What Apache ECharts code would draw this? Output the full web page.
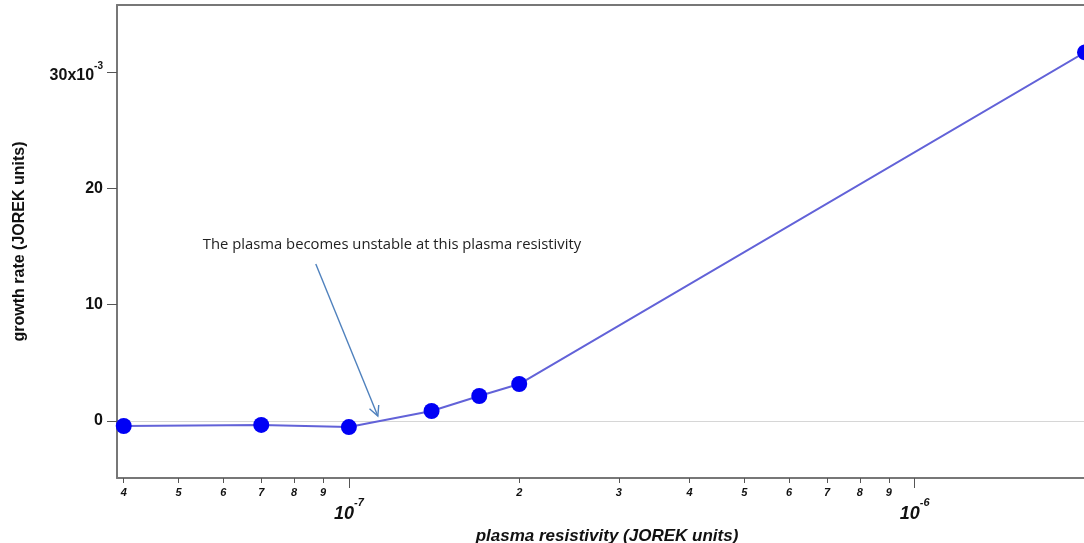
<!DOCTYPE html>
<html><head><meta charset="utf-8">
<script src="https://cdn.jsdelivr.net/npm/echarts@6/dist/echarts.min.js"></script>
<style>html,body{margin:0;padding:0;background:#fff}#c{width:1084px;height:543px}</style>
</head><body><div id="c"></div>
<script>
// ---- data ----
const resistivity = [4e-8, 7e-8, 1e-7, 1.4e-7, 1.7e-7, 2e-7, 2e-6];
const growthRate = [-0.00043, -0.00034, -0.00052, 0.00086, 0.00215, 0.00318, 0.0317];
const minorTicks = [4e-8, 5e-8, 6e-8, 7e-8, 8e-8, 9e-8, 2e-7, 3e-7, 4e-7, 5e-7, 6e-7, 7e-7, 8e-7, 9e-7];
const decadeTicks = [1e-7, 1e-6];
const yTicks = [0, 0.01, 0.02, 0.03];
const annotationText = 'The plasma becomes unstable at this plasma resistivity';
const arrowFrom = [8.74e-8, 0.0135];
const arrowTo = [1.125e-7, 0.00043];
const textAnchor = [5.52e-8, 0.01513];

const FONT = 'Liberation Sans';
const chart = echarts.init(document.getElementById('c'), null, {renderer: 'canvas'});

function mantissa(v) {
  const e = Math.floor(Math.log10(v) + 1e-9);
  return String(Math.round(v / Math.pow(10, e)));
}
const xBase = {
  type: 'log', min: 3.892e-8, max: 2.1e-6, gridIndex: 0,
  splitLine: {show: false}, minorTick: {show: false}, minorSplitLine: {show: false}
};

const option = {
  animation: false,
  backgroundColor: '#fff',
  grid: {left: 117, right: -13, top: 5, bottom: 65, containLabel: false, outerBoundsMode: 'none'},
  xAxis: [
    Object.assign({}, xBase, {
      position: 'bottom',
      axisLine: {show: true, onZero: false, lineStyle: {color: '#777', width: 2}},
      axisTick: {show: true, length: 5, customValues: minorTicks, lineStyle: {color: '#555', width: 1}},
      axisLabel: {customValues: minorTicks, formatter: mantissa, fontSize: 11, fontStyle: 'italic',
        fontWeight: 'bold', color: '#111', margin: 9, fontFamily: FONT}
    }),
    Object.assign({}, xBase, {
      position: 'bottom',
      axisLine: {show: false, onZero: false},
      axisTick: {show: true, length: 10, customValues: decadeTicks, lineStyle: {color: '#555', width: 1}},
      axisLabel: {
        customValues: decadeTicks,
        formatter: v => '{b|10}{s|' + Math.round(Math.log10(v)) + '}',
        margin: 19,
        rich: {
          b: {fontSize: 18, fontStyle: 'italic', fontWeight: 'bold', color: '#111', fontFamily: FONT,
              lineHeight: 26, verticalAlign: 'bottom'},
          s: {fontSize: 11, fontStyle: 'italic', fontWeight: 'bold', color: '#111', fontFamily: FONT, verticalAlign: 'top'}
        }
      },
      name: 'plasma resistivity (JOREK units)', nameLocation: 'middle', nameGap: 46,
      nameTextStyle: {fontSize: 17, fontStyle: 'italic', fontWeight: 'bold', color: '#111', fontFamily: FONT}
    }),
    Object.assign({}, xBase, {
      position: 'top',
      axisLine: {show: true, onZero: false, lineStyle: {color: '#777', width: 2}},
      axisTick: {show: false}, axisLabel: {show: false}
    })
  ],
  yAxis: {
    type: 'value', min: -0.0049, max: 0.03577,
    splitLine: {show: false},
    axisLine: {show: true, onZero: false, lineStyle: {color: '#777', width: 2}},
    axisTick: {show: true, length: 10, customValues: yTicks, lineStyle: {color: '#555', width: 1}},
    axisLabel: {
      customValues: yTicks, margin: 14,
      formatter: v => {
        const n = Math.round(v * 1000);
        return n === 30 ? '{b|30x10}{s|-3}' : '{c|' + n + '}';
      },
      rich: {
        b: {fontSize: 16, fontWeight: 'bold', color: '#111', fontFamily: FONT, lineHeight: 22, verticalAlign: 'bottom'},
        c: {fontSize: 16, fontWeight: 'bold', color: '#111', fontFamily: FONT},
        s: {fontSize: 10, fontWeight: 'bold', color: '#111', fontFamily: FONT, verticalAlign: 'top'}
      }
    },
    name: 'growth rate (JOREK units)', nameLocation: 'middle', nameGap: 89, nameRotate: 90,
    nameTextStyle: {fontSize: 16, fontWeight: 'bold', color: '#111', fontFamily: FONT}
  },
  series: [{
    type: 'line',
    xAxisIndex: 0, yAxisIndex: 0,
    data: resistivity.map((x, i) => [x, growthRate[i]]),
    symbol: 'circle', symbolSize: 16,
    itemStyle: {color: '#0000f5'},
    lineStyle: {color: '#6262d8', width: 2},
    clip: false,
    markLine: {
      silent: true, symbol: 'none', label: {show: false},
      lineStyle: {color: '#d6d6d6', width: 1, type: 'solid'},
      data: [{yAxis: 0}],
      z: 0
    }
  }]
};
chart.setOption(option);

const p1 = chart.convertToPixel({gridIndex: 0}, arrowFrom);
const p2 = chart.convertToPixel({gridIndex: 0}, arrowTo);
const pt = chart.convertToPixel({gridIndex: 0}, textAnchor);
const dx = p2[0] - p1[0], dy = p2[1] - p1[1];
const L = Math.hypot(dx, dy), ux = dx / L, uy = dy / L;
const ang = 27 * Math.PI / 180, hl = 11;
function rot(x, y, a) { return [x * Math.cos(a) - y * Math.sin(a), x * Math.sin(a) + y * Math.cos(a)]; }
const h1 = rot(-ux, -uy, ang), h2 = rot(-ux, -uy, -ang);
const arrowStyle = {stroke: '#4f81bd', lineWidth: 1.4};
chart.setOption({
  graphic: [
    {type: 'line', shape: {x1: p1[0], y1: p1[1], x2: p2[0], y2: p2[1]}, style: arrowStyle, z: 10},
    {type: 'polyline', shape: {points: [[p2[0] + h1[0] * hl, p2[1] + h1[1] * hl], p2, [p2[0] + h2[0] * hl, p2[1] + h2[1] * hl]]},
      style: Object.assign({fill: null}, arrowStyle), z: 10},
    {type: 'text', x: pt[0], y: pt[1], z: 10,
      style: {text: annotationText, fill: '#222', font: '14.8px "Open Sans"', textVerticalAlign: 'middle', textAlign: 'left'}}
  ]
});
</script>
</body></html>
